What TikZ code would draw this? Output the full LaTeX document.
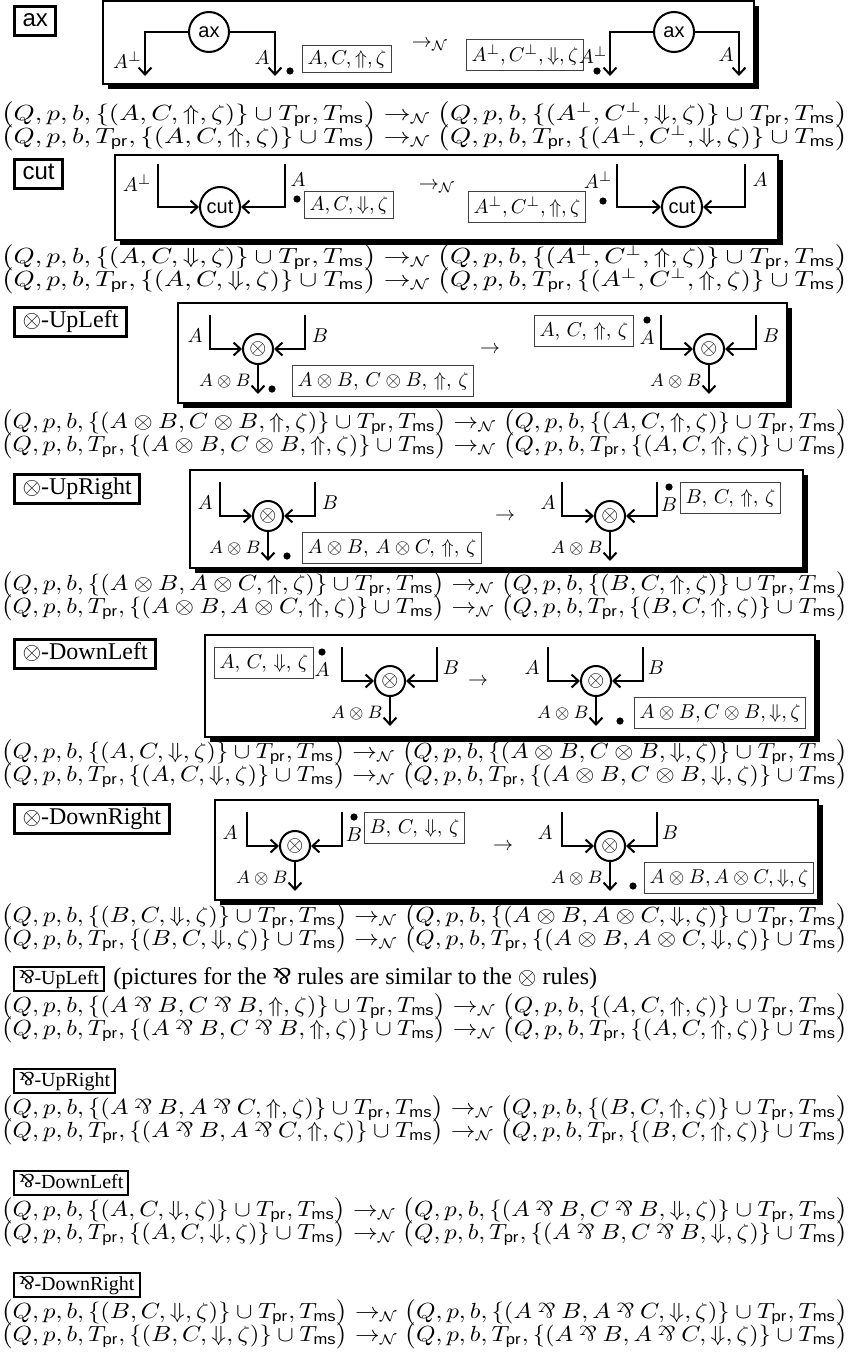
\documentclass[tikz,border=0pt]{standalone}
\usepackage{amsmath}
\usepackage{fontspec}
\setsansfont{Liberation Sans}
\newfontfamily\tms{Liberation Serif}
\usetikzlibrary{arrows.meta}
\newcommand{\pa}{\mathbin{\rotatebox[origin=c]{180}{$\&$}}}
\newcommand{\tpa}{\rotatebox[origin=c]{180}{\&}}
\newcommand{\Tp}{T_{\mathsf{pr}}}
\newcommand{\Tm}{T_{\mathsf{ms}}}
\newcommand{\toN}{\to_{\mathcal{N}}}
\newcommand{\shbox}[4]{\fill (#1+5,#2+5) rectangle (#3+5,#4+5); \draw[bigbox] (#1,#2) rectangle (#3,#4);}
% tensor circuit: name, cx, box top
\newcommand{\tcirc}[3]{%
 \node[tc] (#1) at (#2,#3+46) {$\otimes$};
 \coordinate (#1l) at (#2-48,#3+12);
 \coordinate (#1r) at (#2+47,#3+12);
 \coordinate (#1d) at (#2,#3+91);
 \draw[arr] (#1l) |- (#1.west);
 \draw[arr] (#1r) |- (#1.east);
 \draw[arr] (#1.south) -- (#1d);
 \node[lbs, anchor=east] (#1ab) at (#2-7,#3+78) {$A\otimes B$};}
\newcommand{\fpair}[5]{%
 \node[fl] (#1a) at (1,#2) {\resizebox{423pt}{\height}{$\bigl(Q, p, b, \{(#4)\} \cup \Tp, \Tm\bigr) \toN \bigl(Q, p, b, \{(#5)\} \cup \Tp, \Tm\bigr)$}};
 \node[fl] (#1b) at (1,#3) {\resizebox{423pt}{\height}{$\bigl(Q, p, b, \Tp, \{(#4)\} \cup \Tm\bigr) \toN \bigl(Q, p, b, \Tp, \{(#5)\} \cup \Tm\bigr)$}};}
\newcommand{\cs}{,\,}
\begin{document}
\begin{tikzpicture}[x=0.5pt,y=-0.5pt,
 bigbox/.style={draw, line width=1.2pt, fill=white},
 lab/.style={draw, line width=1.5pt, inner xsep=4pt, inner ysep=2pt, anchor=north west, text height=8pt, text depth=2.5pt},
 labs/.style={lab, font=\sffamily\fontsize{12}{12}\selectfont},
 labt/.style={lab, font=\tms\fontsize{12}{12}\selectfont},
 labp/.style={draw, line width=1pt, inner xsep=2.5pt, inner ysep=1.5pt, anchor=north west, text height=7pt, text depth=2pt, font=\tms\fontsize{10}{10}\selectfont},
 tb/.style={draw=black!75, line width=0.5pt, inner xsep=2.5pt, inner ysep=2.5pt, anchor=west, font=\fontsize{10}{11}\selectfont},
 tbt/.style={tb, inner ysep=3.2pt},
 arr/.style={line width=1pt, -{Straight Barb[length=3.5pt,width=6.5pt]}},
 axc/.style={circle, draw, line width=1pt, minimum size=20pt, inner sep=0pt, font=\sffamily\fontsize{10}{10}\selectfont},
 tc/.style={circle, draw, line width=1pt, minimum size=15pt, inner sep=0pt, font=\fontsize{11}{11}\selectfont},
 dot/.style={circle, fill, inner sep=0pt, minimum size=3.6pt},
 lbl/.style={inner sep=0pt, font=\fontsize{10}{11}\selectfont},
 lbs/.style={inner sep=0pt, font=\fontsize{9}{10}\selectfont},
 fl/.style={anchor=base west, inner sep=0pt, font=\fontsize{10.5}{12}\selectfont},
 ]
\useasboundingbox (0,0) rectangle (854,1365);
\fill[white] (0,0) rectangle (854,1365);

% ===== ax =====
\node[labs] (Lax) at (13,5) {ax};
\shbox{103}{1}{754}{84}
\node[axc] (ax1) at (209,32) {ax};
\coordinate (ax1l) at (145,76); \coordinate (ax1r) at (275,76);
\draw[arr] (ax1.west) -| (ax1l);
\draw[arr] (ax1.east) -| (ax1r);
\node[lbl, anchor=east] (axA1) at (142,60) {$A^\bot$};
\node[lbl, anchor=east] (axA2) at (270,58) {$A$};
\node[dot] (axd1) at (290,71) {};
\node[tb] (axb1) at (302,59) {$A, C, \Uparrow, \zeta$};
\node[lbl] (axto) at (430,45) {$\toN$};
\node[tb] (axb2) at (466,55) {$A^\bot, C^\bot, \Downarrow, \zeta$};
\node[lbl] (axA3) at (593,55) {$A^\bot$};
\node[dot] (axd2) at (597,71) {};
\node[axc] (ax2) at (674,32) {ax};
\coordinate (ax2l) at (610,76); \coordinate (ax2r) at (739,76);
\draw[arr] (ax2.west) -| (ax2l);
\draw[arr] (ax2.east) -| (ax2r);
\node[lbl, anchor=east] (axA4) at (734,55) {$A$};
\fpair{fax}{120}{143}{A, C, \Uparrow, \zeta}{A^\bot, C^\bot, \Downarrow, \zeta}

% ===== cut =====
\node[labs] (Lcut) at (13,158) {cut};
\shbox{115}{155}{778}{240}
\node[axc] (cut1) at (220,207) {cut};
\coordinate (c1l) at (158,164); \coordinate (c1r) at (285,164);
\draw[arr] (c1l) |- (cut1.west);
\draw[arr] (c1r) |- (cut1.east);
\node[lbl] (cA1) at (137,183) {$A^\bot$};
\node[lbl] (cA2) at (298,180) {$A$};
\node[dot] (cd1) at (297,199) {};
\node[tb] (cb1) at (304,205) {$A, C, \Downarrow, \zeta$};
\node[lbl] (cto) at (437,187) {$\toN$};
\node[tb] (cb2) at (468,207) {$A^\bot, C^\bot, \Uparrow, \zeta$};
\node[lbl] (cA3) at (598,180) {$A^\bot$};
\node[dot] (cd2) at (603,201) {};
\node[axc] (cut2) at (682,207) {cut};
\coordinate (c2l) at (617,164); \coordinate (c2r) at (745,164);
\draw[arr] (c2l) |- (cut2.west);
\draw[arr] (c2r) |- (cut2.east);
\node[lbl] (cA4) at (760,180) {$A$};
\fpair{fcut}{263}{286}{A, C, \Downarrow, \zeta}{A^\bot, C^\bot, \Uparrow, \zeta}

% ===== tensor UpLeft =====
\node[labt] (Lul) at (13,306) {$\otimes$-UpLeft};
\shbox{178}{303}{787}{403}
\tcirc{ula}{258}{303}
\node[lbl] (ulA1) at (195,336) {$A$};
\node[lbl] (ulB1) at (320,336) {$B$};
\node[dot] (uld1) at (272,389) {};
\node[tbt] (ulb1) at (292,381) {$A\otimes B\cs C\otimes B\cs \Uparrow\cs \zeta$};
\node[lbl] (ulto) at (490,350) {$\to$};
\node[tbt] (ulb2) at (534,331) {$A\cs C\cs \Uparrow\cs \zeta$};
\node[dot] (uld2) at (647,320) {};
\node[lbl] (ulA2) at (647,338) {$A$};
\tcirc{ulb}{709}{303}
\node[lbl] (ulB2) at (771,336) {$B$};
\fpair{ful}{428}{451}{A\otimes B, C\otimes B, \Uparrow, \zeta}{A, C, \Uparrow, \zeta}

% ===== tensor UpRight =====
\node[labt] (Lur) at (13,473) {$\otimes$-UpRight};
\shbox{190}{470}{803}{568}
\tcirc{ura}{268}{470}
\node[lbl] (urA1) at (205,503) {$A$};
\node[lbl] (urB1) at (330,503) {$B$};
\node[dot] (urd1) at (287,556) {};
\node[tbt] (urb1) at (302,548) {$A\otimes B\cs A\otimes C\cs \Uparrow\cs \zeta$};
\node[lbl] (urto) at (505,517) {$\to$};
\node[lbl] (urA2) at (548,503) {$A$};
\tcirc{urb}{610}{470}
\node[dot] (urd2) at (669,487) {};
\node[lbl] (urB2) at (669,505) {$B$};
\node[tbt] (urb2) at (680,498) {$B\cs C\cs \Uparrow\cs \zeta$};
\fpair{fur}{590}{613}{A\otimes B, A\otimes C, \Uparrow, \zeta}{B, C, \Uparrow, \zeta}

% ===== tensor DownLeft =====
\node[labt] (Ldl) at (13,638) {$\otimes$-DownLeft};
\shbox{205}{635}{815}{737}
\node[tbt] (dlb1) at (214,663) {$A\cs C\cs \Downarrow\cs \zeta$};
\node[dot] (dld1) at (322,652) {};
\node[lbl] (dlA1) at (322,670) {$A$};
\tcirc{dla}{390}{635}
\node[lbl] (dlB1) at (451,668) {$B$};
\node[lbl] (dlto) at (478,682) {$\to$};
\node[lbl] (dlA2) at (532,668) {$A$};
\tcirc{dlb}{596}{635}
\node[lbl] (dlB2) at (656,668) {$B$};
\node[dot] (dld2) at (620,721) {};
\node[tbt] (dlb2) at (634,713) {$A\otimes B, C\otimes B, \Downarrow, \zeta$};
\fpair{fdl}{758}{781}{A, C, \Downarrow, \zeta}{A\otimes B, C\otimes B, \Downarrow, \zeta}

% ===== tensor DownRight =====
\node[labt] (Ldr) at (13,803) {$\otimes$-DownRight};
\shbox{215}{800}{818}{900}
\node[lbl] (drA1) at (230,833) {$A$};
\tcirc{dra}{295}{800}
\node[dot] (drd1) at (354,817) {};
\node[lbl] (drB1) at (354,835) {$B$};
\node[tbt] (drb1) at (364,828) {$B\cs C\cs \Downarrow\cs \zeta$};
\node[lbl] (drto) at (503,847) {$\to$};
\node[lbl] (drA2) at (545,833) {$A$};
\tcirc{drb}{610}{800}
\node[lbl] (drB2) at (670,833) {$B$};
\node[dot] (drd2) at (633,886) {};
\node[tbt] (drb2) at (644,878) {$A\otimes B, A\otimes C, \Downarrow, \zeta$};
\fpair{fdr}{922}{945}{B, C, \Downarrow, \zeta}{A\otimes B, A\otimes C, \Downarrow, \zeta}

% ===== par rules =====
\node[labp] (Lpul) at (13,966) {\tpa-UpLeft};
\node[anchor=base west, inner sep=0pt, font=\tms\fontsize{12}{12}\selectfont] (note) at ([xshift=4pt]Lpul.base east) {(pictures for the \tpa{} rules are similar to the $\otimes$ rules)};
\fpair{fpul}{1012}{1035}{A\pa B, C\pa B, \Uparrow, \zeta}{A, C, \Uparrow, \zeta}
\node[labp] (Lpur) at (13,1068) {\tpa-UpRight};
\fpair{fpur}{1114}{1137}{A\pa B, A\pa C, \Uparrow, \zeta}{B, C, \Uparrow, \zeta}
\node[labp] (Lpdl) at (13,1170) {\tpa-DownLeft};
\fpair{fpdl}{1216}{1239}{A, C, \Downarrow, \zeta}{A\pa B, C\pa B, \Downarrow, \zeta}
\node[labp] (Lpdr) at (13,1272) {\tpa-DownRight};
\fpair{fpdr}{1318}{1341}{B, C, \Downarrow, \zeta}{A\pa B, A\pa C, \Downarrow, \zeta}
\end{tikzpicture}
\end{document}
